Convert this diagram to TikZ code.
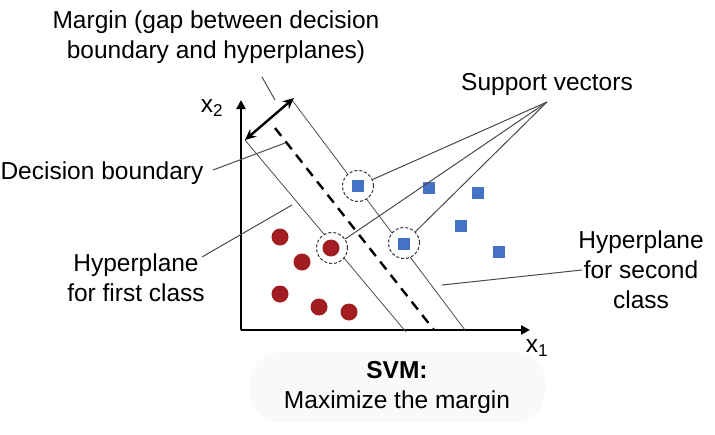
\documentclass[tikz,border=0pt]{standalone}
\usepackage{fontspec}
\setmainfont{Liberation Sans}
\usetikzlibrary{arrows.meta}
\definecolor{ptred}{HTML}{A11D21}
\definecolor{ptblue}{HTML}{4472C4}
\definecolor{leadgray}{HTML}{4A4A4A}
\definecolor{capbg}{HTML}{F8F9FB}
\tikzset{
  lbl/.style={font=\fontsize{24.5}{30}\selectfont, align=center, inner sep=0pt},
  axis/.style={line width=2.6pt, -{Triangle[length=9pt,width=9pt]}},
  hyper/.style={line width=0.8pt, draw=black!70},
  boundary/.style={line width=2.4pt, dash pattern=on 10pt off 7pt},
  leader/.style={line width=1pt, draw=leadgray},
  sqpt/.style={rectangle, fill=ptblue, minimum size=12pt, inner sep=0pt},
  rdpt/.style={circle, fill=ptred, minimum size=17pt, inner sep=0pt},
  svring/.style={circle, draw=black!80, dash pattern=on 3pt off 2pt, line width=1pt, fill=white, minimum size=31pt, inner sep=0pt},
  marrow/.style={line width=2.4pt, {Stealth[length=11pt,width=10pt]}-{Stealth[length=11pt,width=10pt]}}
}
\begin{document}
\begin{tikzpicture}[x=1pt,y=-1pt]
\useasboundingbox (0,0) rectangle (715,434);
% faint background under caption
\fill[capbg, rounded corners=30pt] (250,352) rectangle (545,422);
% axes
\coordinate (O) at (241,330);
\coordinate (ytip) at (241,100);
\coordinate (xtip) at (530,330);
\draw[axis] (O) -- (ytip);
\draw[axis] (O) -- (xtip);
\node[lbl] (x2) at (212,108) {x\textsubscript{2}};
\node[lbl] (x1) at (537,348) {x\textsubscript{1}};
% hyperplanes
\coordinate (h1a) at (245,140); \coordinate (h1b) at (406,332);
\coordinate (dba) at (275,128); \coordinate (dbb) at (434,330);
\coordinate (h2a) at (292,100); \coordinate (h2b) at (465,330);
\draw[hyper] (h1a) -- (h1b);
\draw[hyper] (h2a) -- (h2b);
\draw[boundary] (dba) -- (dbb);
% margin arrow
\coordinate (ma) at (245,140); \coordinate (mb) at (294,98);
\draw[marrow] (ma) -- (mb);
% support vector rings
\node[svring] (sv1) at (358,186) {};
\node[svring] (sv2) at (332,248) {};
\node[svring] (sv3) at (404,243) {};
% points
\node[sqpt] (b1) at (358,186) {};
\node[sqpt] (b2) at (429,188) {};
\node[sqpt] (b3) at (478,193) {};
\node[sqpt] (b4) at (461,226) {};
\node[sqpt] (b5) at (499,252) {};
\node[sqpt] (b6) at (404,244) {};
\node[rdpt] (r1) at (280,237) {};
\node[rdpt] (r2) at (302,262) {};
\node[rdpt] (r3) at (331,248) {};
\node[rdpt] (r4) at (280,294) {};
\node[rdpt] (r5) at (319,307) {};
\node[rdpt] (r6) at (349,312) {};
% labels
\node[lbl] (margin) at (216,37) {Margin (gap between decision\\boundary and hyperplanes)};
\node[lbl] (dec) at (102,173) {Decision boundary};
\node[lbl] (sv) at (547,84) {Support vectors};
\node[lbl] (hp1) at (136,278) {Hyperplane\\for first class};
\node[lbl] (hp2) at (641,270) {Hyperplane\\for second\\class};
\node[lbl] (svm) at (397,387) {\textbf{SVM:}\\Maximize the margin};
% leaders
\coordinate (mgA) at (262,77); \coordinate (mgB) at (275,100);
\draw[leader] (mgA) -- (mgB);
\coordinate (dcA) at (213,170); \coordinate (dcB) at (285,143);
\draw[leader] (dcA) -- (dcB);
\coordinate (f1A) at (202,257); \coordinate (f1B) at (292,205);
\draw[leader] (f1A) -- (f1B);
\coordinate (f2A) at (582,270); \coordinate (f2B) at (442,285);
\draw[leader] (f2A) -- (f2B);
\coordinate (svtip) at (547,102);
\draw[leader] (svtip) -- (sv1);
\draw[leader] (svtip) -- (sv2);
\draw[leader] (svtip) -- (sv3);
\end{tikzpicture}
\end{document}
